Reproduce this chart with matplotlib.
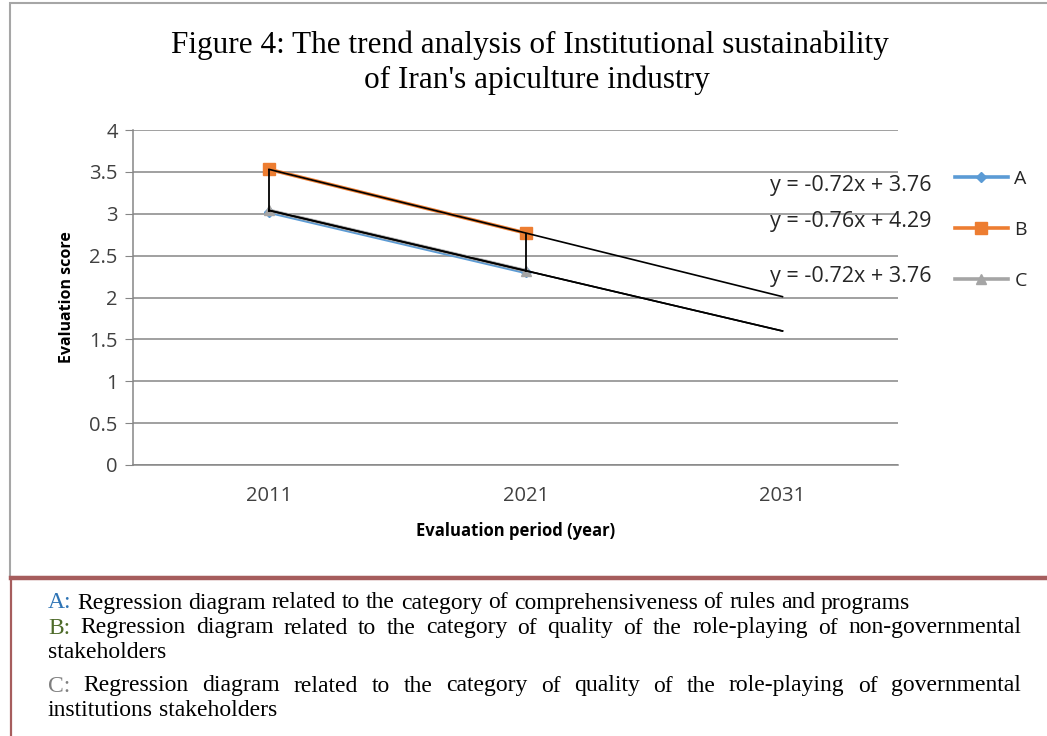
import matplotlib
matplotlib.use('Agg')
import matplotlib.pyplot as plt
from matplotlib.patches import Rectangle
from matplotlib.lines import Line2D

# data
years = ['2011', '2021', '2031']
series_names = ['A', 'B', 'C']
A = [3.02, 2.30]
B = [3.53, 2.77]
C = [3.04, 2.32]
# linear trendlines y = m*x + b
slopes = [-0.72, -0.76, -0.72]
intercepts = [3.76, 4.29, 3.76]
y_ticks = [0, 0.5, 1, 1.5, 2, 2.5, 3, 3.5, 4]
y_ticklabels = ['0', '0.5', '1', '1.5', '2', '2.5', '3', '3.5', '4']

colors = ['#5b9bd5', '#ed7d31', '#a5a5a5']
markers = ['D', 's', '^']
msizes = [5, 9, 7]

notes = [
    ('A:', ' Regression diagram related to the category of comprehensiveness of rules and programs', False),
    ('B:', ' Regression diagram related to the category of quality of the role-playing of non-governmental', True),
    ('', 'stakeholders', False),
    ('C:', ' Regression diagram related to the category of quality of the role-playing of governmental', True),
    ('', 'institutions stakeholders', False),
]
note_colors = {'A:': '#2e74b5', 'B:': '#4e6b2a', 'C:': '#7f7f7f', '': 'black'}

W, H = 1047, 736
fig = plt.figure(figsize=(W / 100, H / 100), dpi=100)

def fx(px):
    return px / W

def fy(py):
    return 1 - py / H

# frames around the chart and the note box
fig.add_artist(Rectangle((fx(10), fy(577)), fx(1060) - fx(10), fy(3) - fy(577),
                         transform=fig.transFigure, fill=False, ec='#a6a6a6', lw=1.5))
fig.add_artist(Rectangle((fx(11), fy(740)), fx(1060) - fx(11), fy(578) - fy(740),
                         transform=fig.transFigure, fill=False, ec='#a65d5d', lw=1.6))
fig.add_artist(Line2D([fx(11), fx(1047)], [fy(578), fy(578)], transform=fig.transFigure,
                      color='#a65d5d', lw=3.2))

ax = fig.add_axes([fx(133), fy(465), fx(898) - fx(133), fy(130) - fy(465)])
x = [1, 2, 3]
for vals, c, m, ms, name in zip([A, B, C], colors, markers, msizes, series_names):
    ax.plot(x[:len(vals)], vals, color=c, lw=2.6, marker=m, ms=ms, mec=c, label=name, zorder=3)

# high-low lines
for i in range(2):
    col = [A[i], B[i], C[i]]
    ax.vlines(x[i], min(col), max(col), color='black', lw=1.3, zorder=4)

# trendlines
for m, b in zip(slopes, intercepts):
    ax.plot([x[0], x[-1]], [m * x[0] + b, m * x[-1] + b], color='black', lw=1.2, zorder=5)

ax.set_xlim(0.47, 3.45)
ax.set_ylim(0, 4)
ax.set_yticks(y_ticks)
ax.set_yticklabels(y_ticklabels)
ax.set_xticks(x)
ax.set_xticklabels(years)
ax.yaxis.grid(True, color='#868686', lw=1.1)
ax.set_axisbelow(True)
for s in ['top', 'right']:
    ax.spines[s].set_visible(False)
ax.spines['left'].set_color('#868686')
ax.spines['bottom'].set_color('#868686')
ax.spines['left'].set_linewidth(1.1)
ax.spines['bottom'].set_linewidth(1.1)
ax.tick_params(axis='y', direction='out', length=6, color='#868686', labelsize=14.5, pad=5)
ax.tick_params(axis='x', length=0, labelsize=14.5, pad=15)
for lab in ax.get_xticklabels() + ax.get_yticklabels():
    lab.set_family('Open Sans')
    lab.set_color('#404040')
ax.set_ylabel('Evaluation score', fontsize=11.5, fontweight='bold', family='Open Sans', labelpad=10)
ax.set_xlabel('Evaluation period (year)', fontsize=12, fontweight='bold', family='Open Sans', labelpad=12)

leg = ax.legend(loc='upper left', bbox_to_anchor=(fx(955), fy(170)), bbox_transform=fig.transFigure,
                frameon=False, borderpad=0, borderaxespad=0, handlelength=2.7, handletextpad=0.35,
                labelspacing=1.7, prop={'family': 'Open Sans', 'size': 14})
for t in leg.get_texts():
    t.set_color('#262626')

# trendline equations
eq_y = [185, 222, 277]
for m, b, yy in zip(slopes, intercepts, eq_y):
    fig.text(fx(932), fy(yy), 'y = %.2fx + %.2f' % (m, b), ha='right', va='center',
             fontsize=15.5, family='Open Sans', color='#262626')

# title
title_lines = ["Figure 4: The trend analysis of Institutional sustainability",
               "of Iran's apiculture industry"]
fig.text(fx(530), fy(45), title_lines[0], ha='center', va='center', family='Liberation Serif',
         fontsize=22.5)
fig.text(fx(537), fy(80), title_lines[1], ha='center', va='center', family='Liberation Serif',
         fontsize=22.5)

# note box text, justified where needed
fig.canvas.draw()
renderer = fig.canvas.get_renderer()
note_fs = 17
note_y = [603, 628, 652, 686, 710]
left_px, right_px = 48, 1021

def width_px(t):
    return t.get_window_extent(renderer).width

space_w = width_px(fig.text(0, 0, 'a a', fontsize=note_fs, family='Liberation Serif', alpha=0)) - \
    width_px(fig.text(0, 0, 'aa', fontsize=note_fs, family='Liberation Serif', alpha=0))

for (prefix, body, justify), yy in zip(notes, note_y):
    words = body.split()
    if prefix:
        words = [prefix] + words
    artists = []
    for w in words:
        t = fig.text(0, fy(yy), w, ha='left', va='center', family='Liberation Serif',
                     fontsize=note_fs, color=note_colors[prefix] if w == prefix else 'black')
        artists.append(t)
    widths = [width_px(t) for t in artists]
    space = space_w
    if justify and len(words) > 1:
        space = (right_px - left_px - sum(widths)) / (len(words) - 1)
    pos = left_px
    for t, w in zip(artists, widths):
        t.set_x(fx(pos))
        pos += w + space

fig.savefig('out.png', dpi=100)
